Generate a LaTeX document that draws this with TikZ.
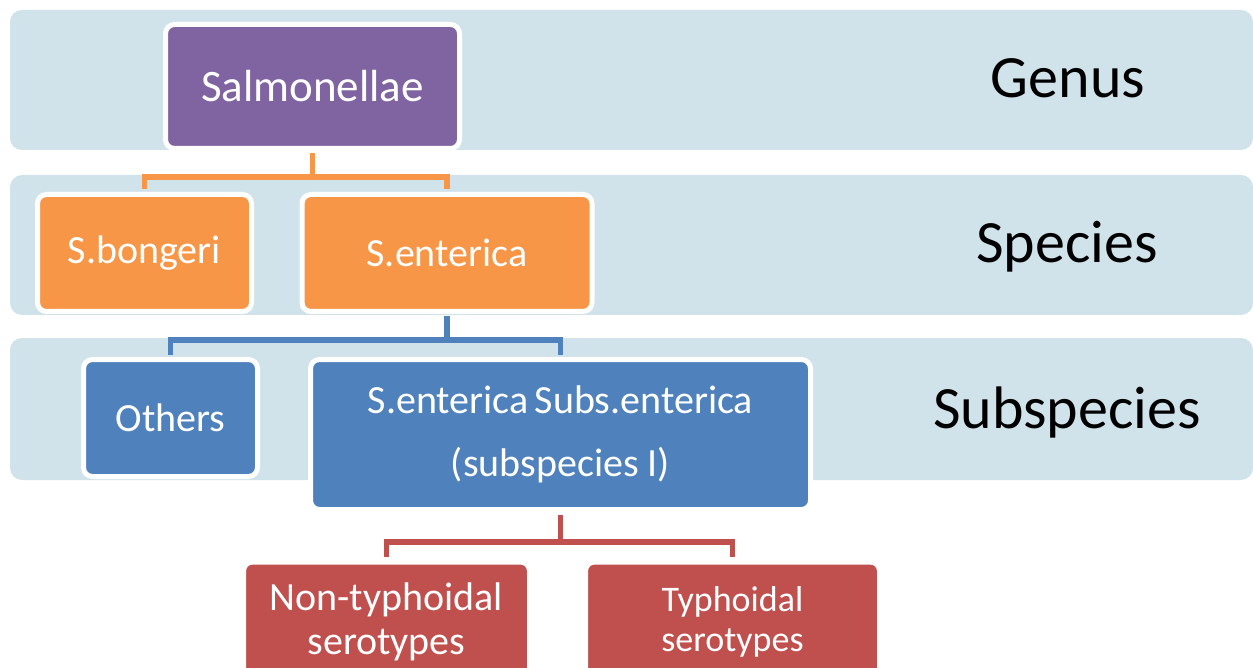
\documentclass[tikz,border=0pt]{standalone}
\usepackage{fontspec}
\setmainfont{Carlito}
\definecolor{bandblue}{HTML}{D1E3EA}
\definecolor{genuspurple}{HTML}{8064A2}
\definecolor{speciesorange}{HTML}{F79646}
\definecolor{subsblue}{HTML}{4F81BD}
\definecolor{serored}{HTML}{C0504D}
\tikzset{
  band/.style={fill=bandblue,rounded corners=12pt,minimum width=1243pt,minimum height=140pt,inner sep=0pt},
  taxbox/.style={draw=white,line width=5pt,rounded corners=9pt,text=white,inner sep=0pt,align=center},
  ranklabel/.style={anchor=base,font=\fontsize{60}{60}\selectfont},
  branch/.style={line width=5.5pt,shorten >=2.5pt,shorten <=2.5pt}
}
\begin{document}
\begin{tikzpicture}[x=1pt,y=-1pt]
        \useasboundingbox (0,0) rectangle (1253,668);
        % rank bands
        \node[band] (genusband) at (631.5,80) {};
        \node[band] (speciesband) at (631.5,245) {};
        \node[band,minimum height=142pt] (subsband) at (631.5,409) {};
        \node[ranklabel] (genus) at (1068,98) {Genus};
        \node[ranklabel] (species) at (1067,263) {Species};
        \node[ranklabel] (subspecies) at (1067,428) {Subspecies};
        % tree
        \node[taxbox,fill=genuspurple,minimum width=294pt,minimum height=124pt,font=\fontsize{45}{45}\selectfont] (salm) at (312.5,86.5) {Salmonellae};
        \node[taxbox,fill=speciesorange,minimum width=214pt,minimum height=117pt,font=\fontsize{40}{40}\selectfont] (bong) at (144.5,253) {S.bongeri};
        \node[taxbox,fill=speciesorange,minimum width=290pt,minimum height=117pt,font=\fontsize{40}{40}\selectfont] (sent) at (447,253) {S.enterica};
        \node[taxbox,fill=subsblue,minimum width=174pt,minimum height=117pt,font=\fontsize{40}{40}\selectfont] (others) at (170.5,418) {Others};
        \node[taxbox,fill=subsblue,minimum width=500pt,minimum height=150pt,font=\fontsize{40}{63}\selectfont] (subs) at (560.5,434.5) {S.enterica\hspace{-3pt} Subs.enterica\\(subspecies I)};
        \node[taxbox,fill=serored,minimum width=286pt,minimum height=120pt,font=\fontsize{40}{44}\selectfont] (nontyph) at (386.5,622) {Non-typhoidal\\serotypes};
        \node[taxbox,fill=serored,minimum width=294pt,minimum height=120pt,font=\fontsize{36}{40}\selectfont] (typh) at (732.5,622) {Typhoidal\\serotypes};
        \draw[branch,speciesorange] (salm.south) -- ++(0,26) coordinate (j1) -| (bong.north);
        \draw[branch,speciesorange] (j1) -| (sent.north);
        \draw[branch,subsblue] (sent.south) -- ++(0,26) coordinate (j2) -| (others.north);
        \draw[branch,subsblue] (j2) -| (subs.north);
        \draw[branch,serored] (subs.south) -- ++(0,30) coordinate (j3) -| (nontyph.north);
        \draw[branch,serored] (j3) -| (typh.north);
    \end{tikzpicture}
\end{document}
